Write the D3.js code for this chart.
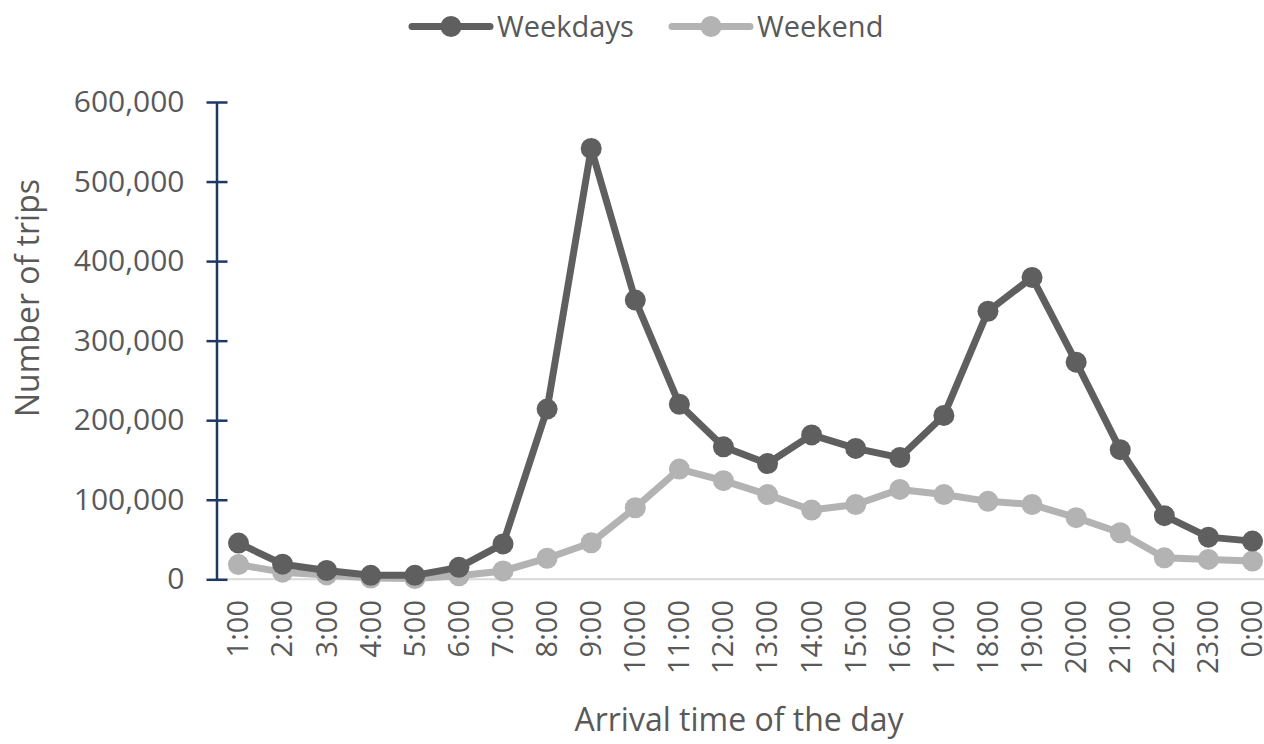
<!DOCTYPE html>
<html>
<head>
    <title>Trips by arrival time</title>
    <script src="https://d3js.org/d3.v7.min.js"></script>
    <style>
        body { margin: 0; background: #fff; }
        text { font-family: "Open Sans", sans-serif; fill: #595959; }
    </style>
</head>
<body>
    <div id="chart"></div>
    <script>
// hours along the x axis
const hours = ["1:00", "2:00", "3:00", "4:00", "5:00", "6:00", "7:00", "8:00", "9:00", "10:00",
    "11:00", "12:00", "13:00", "14:00", "15:00", "16:00", "17:00", "18:00", "19:00", "20:00",
    "21:00", "22:00", "23:00", "0:00"];

// number of trips
const weekdays = [45500, 19000, 11000, 5000, 5000, 15000, 44500, 214000, 541500, 351000,
    220000, 166500, 145500, 181500, 164500, 153000, 206000, 337000, 379500, 273000,
    163000, 80000, 53000, 48000];
const weekend = [18500, 9000, 5500, 1500, 1000, 4500, 10500, 26500, 46000, 90000,
    138500, 124000, 106500, 87000, 94000, 113000, 106500, 98000, 94000, 77500,
    58500, 27000, 25000, 23000];

const yTicks = [0, 100000, 200000, 300000, 400000, 500000, 600000];

const series = [
    { name: "Weekdays", values: weekdays, color: "#5f5f5f" },
    { name: "Weekend", values: weekend, color: "#b3b3b3" }
];

const svg = d3.select("#chart").append("svg").attr("width", 1264).attr("height", 744);

const x = d3.scalePoint().domain(hours).range([238.5, 1252.5]);
const y = d3.scaleLinear().domain([0, 600000]).range([579.3, 102]);

// x axis line (light grey, no ticks)
svg.append("line")
    .attr("x1", 216).attr("x2", 1264)
    .attr("y1", y(0)).attr("y2", y(0))
    .attr("stroke", "#d9d9d9").attr("stroke-width", 2);

// x labels, rotated
svg.append("g").selectAll("text")
    .data(hours)
    .join("text")
    .attr("transform", d => `translate(${x(d)},600) rotate(-90)`)
    .attr("text-anchor", "end")
    .attr("dy", "0.34em")
    .style("font-size", "29px")
    .text(d => d);

// y axis
const yAxis = svg.append("g")
    .attr("transform", "translate(216.5,0)")
    .call(d3.axisLeft(y).tickValues(yTicks).tickSize(0).tickPadding(0).tickFormat(d3.format(",")));
yAxis.select(".domain").attr("stroke", "#1f3864").attr("stroke-width", 2.5);
yAxis.selectAll(".tick text")
    .attr("x", -32)
    .style("font-size", "30px")
    .style("font-family", "Open Sans, sans-serif")
    .attr("fill", "#595959");
yAxis.selectAll(".tick").append("line")
    .attr("x1", -10).attr("x2", 11)
    .attr("stroke", "#1f3864").attr("stroke-width", 2.5);

// lines and markers
const line = d3.line().x((d, i) => x(hours[i])).y(d => y(d));

series.slice().reverse().forEach(s => {
    svg.append("path")
        .datum(s.values)
        .attr("d", line)
        .attr("fill", "none")
        .attr("stroke", s.color)
        .attr("stroke-width", 7)
        .attr("stroke-linejoin", "round");
    svg.append("g").selectAll("circle")
        .data(s.values)
        .join("circle")
        .attr("cx", (d, i) => x(hours[i]))
        .attr("cy", d => y(d))
        .attr("r", 10.5)
        .attr("fill", s.color);
});

// axis titles
svg.append("text")
    .attr("x", 739).attr("y", 731)
    .attr("text-anchor", "middle")
    .style("font-size", "32px")
    .text("Arrival time of the day");

svg.append("text")
    .attr("transform", "translate(39,298) rotate(-90)")
    .attr("text-anchor", "middle")
    .style("font-size", "32px")
    .text("Number of trips");

// legend
const legendX = [412, 672];
series.forEach((s, i) => {
    const g = svg.append("g").attr("transform", `translate(${legendX[i]},26.5)`);
    g.append("line")
        .attr("x1", 0).attr("x2", 78)
        .attr("stroke", s.color).attr("stroke-width", 7)
        .attr("stroke-linecap", "round");
    g.append("circle").attr("cx", 39).attr("r", 10.5).attr("fill", s.color);
    g.append("text")
        .attr("x", 85).attr("y", 10.5)
        .style("font-size", "29px")
        .text(s.name);
});
    </script>
</body>
</html>
